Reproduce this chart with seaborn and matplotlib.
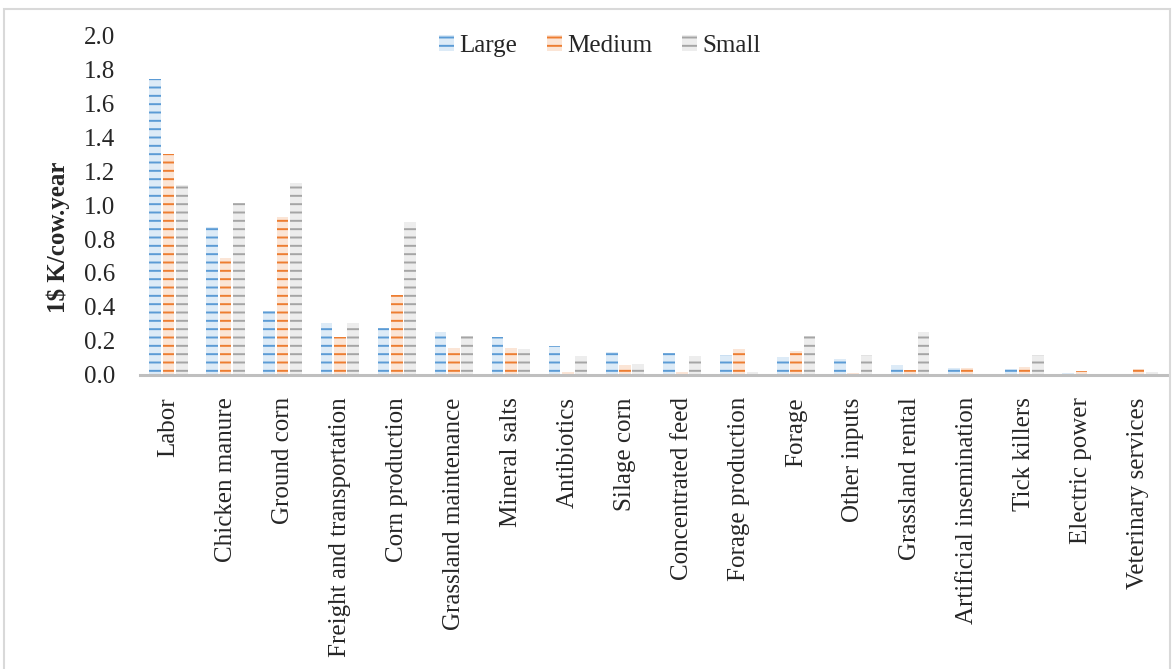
import matplotlib
matplotlib.use("Agg")
import matplotlib.pyplot as plt
from matplotlib.patches import Patch, Rectangle
import seaborn as sns
import pandas as pd
import numpy as np

categories = ["Labor", "Chicken manure", "Ground corn", "Freight and transportation",
              "Corn production", "Grassland maintenance", "Mineral salts", "Antibiotics",
              "Silage corn", "Concentrated feed", "Forage production", "Forage",
              "Other inputs", "Grassland rental", "Artificial insemination",
              "Tick killers", "Electric power", "Veterinary services"]
large = [1.74, 0.87, 0.375, 0.305, 0.275, 0.25, 0.225, 0.17, 0.135, 0.13, 0.115,
         0.105, 0.095, 0.06, 0.04, 0.035, 0.01, 0.0]
medium = [1.30, 0.69, 0.93, 0.225, 0.47, 0.16, 0.16, 0.02, 0.06, 0.02, 0.155,
          0.14, 0.01, 0.03, 0.04, 0.045, 0.025, 0.035]
small = [1.12, 1.01, 1.13, 0.305, 0.90, 0.23, 0.15, 0.11, 0.065, 0.11, 0.02,
         0.23, 0.12, 0.25, 0.005, 0.12, 0.005, 0.02]
series_names = ["Large", "Medium", "Small"]
y_ticks = [0.0, 0.2, 0.4, 0.6, 0.8, 1.0, 1.2, 1.4, 1.6, 1.8, 2.0]
y_label = "1$ K/cow.year"

fill_colors = ["#DDEBF7", "#FBE5D6", "#EDEDED"]
hatch_colors = ["#5B9BD5", "#ED7D31", "#A5A5A5"]

sns.set_style("white")
plt.rcParams["font.family"] = ["Liberation Serif", "DejaVu Serif"]
plt.rcParams["hatch.linewidth"] = 1.4

df = pd.DataFrame({
    "category": categories * 3,
    "value": large + medium + small,
    "size": [s for s in series_names for _ in categories],
})

W, H = 1173, 669
fig = plt.figure(figsize=(W / 100, H / 100), dpi=100)
ax = fig.add_axes([140 / W, 1 - 375 / H, 1027 / W, 340 / H])

sns.barplot(data=df, x="category", y="value", hue="size", hue_order=series_names,
            order=categories, palette=fill_colors, width=0.7, gap=0.12,
            ax=ax, legend=False, errorbar=None)

for cont, fc, hc in zip(ax.containers, fill_colors, hatch_colors):
    for bar in cont:
        bar.set_facecolor(fc)
        bar.set_edgecolor(hc)
        bar.set_linewidth(0)
        bar.set_hatch("--")

ax.set_ylim(0, 2.0)
ax.set_yticks(y_ticks)
ax.set_yticklabels([f"{v:.1f}" for v in y_ticks])
ax.set_xlabel("")
ax.set_ylabel("")
ax.tick_params(axis="y", length=0, pad=18, labelsize=18)
ax.tick_params(axis="x", length=0, pad=16, labelsize=18, labelrotation=90)
for lbl in ax.get_xticklabels():
    lbl.set_va("top")
    lbl.set_ha("center")
for s in ["left", "right", "top"]:
    ax.spines[s].set_visible(False)
ax.spines["bottom"].set_color("#BFBFBF")
ax.spines["bottom"].set_linewidth(2.2)

fig.text(58 / W, 1 - 237 / H, y_label, rotation=90, ha="center", va="center",
         fontsize=18, fontweight="bold")

handles = [Patch(facecolor=fc, edgecolor=hc, linewidth=0, hatch="--", label=n)
           for fc, hc, n in zip(fill_colors, hatch_colors, series_names)]
fig.legend(handles=handles, loc="center", bbox_to_anchor=(600 / W, 1 - 46 / H),
           ncol=3, frameon=False, fontsize=18, handlelength=0.6, handleheight=0.6,
           handletextpad=0.2, columnspacing=1.2)

fig.patches.append(Rectangle((4 / W, -0.1), (1170 - 4) / W, 1 - 9 / H + 0.1,
                             transform=fig.transFigure, fill=False,
                             edgecolor="#D9D9D9", linewidth=1.5))

fig.savefig("out.png", dpi=100)
